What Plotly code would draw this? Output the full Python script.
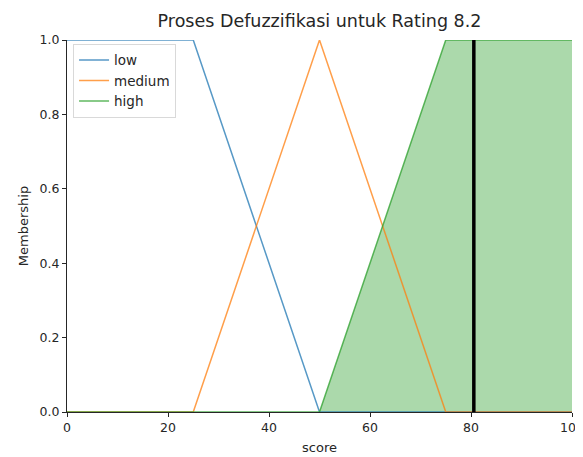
import plotly.graph_objects as go

# Data
score = [0, 25, 50, 75, 100]
low = [1, 1, 0, 0, 0]
medium = [0, 0, 1, 0, 0]
high = [0, 0, 0, 1, 1]
centroid = 80.56
title_text = "Proses Defuzzifikasi untuk Rating 8.2"

font = "DejaVu Sans"
W, H = 583, 449  # page body has 8px margin in the viewer
fig = go.Figure()

fig.add_trace(go.Scatter(x=score, y=high, mode="lines", fill="tozeroy",
                         fillcolor="rgba(44,160,44,0.4)", line=dict(width=0),
                         showlegend=False, hoverinfo="skip"))
fig.add_trace(go.Scatter(x=score, y=low, mode="lines", name="low",
                         line=dict(color="#1f77b4", width=1.5), opacity=0.75, cliponaxis=False))
fig.add_trace(go.Scatter(x=score, y=medium, mode="lines", name="medium",
                         line=dict(color="#ff7f0e", width=1.5), opacity=0.75, cliponaxis=False))
fig.add_trace(go.Scatter(x=score, y=high, mode="lines", name="high",
                         line=dict(color="#2ca02c", width=1.5), opacity=0.75, cliponaxis=False))
fig.add_vline(x=centroid, line=dict(color="black", width=3.5))

fig.update_layout(
    width=W, height=H,
    margin=dict(l=59, r=19, t=32, b=45),
    paper_bgcolor="white", plot_bgcolor="white",
    font=dict(family=font, size=12, color="#262626"),
    title=dict(text=title_text, x=0.5, xref="paper", xanchor="center",
               y=1 - 13 / H, yref="container", yanchor="middle",
               font=dict(size=17.5, color="#262626")),
    legend=dict(x=0.012, y=0.99, xanchor="left", yanchor="top",
                bordercolor="#d9d9d9", borderwidth=1, bgcolor="rgba(255,255,255,0.8)",
                font=dict(size=13.5), itemwidth=30, tracegroupgap=3),
    xaxis=dict(range=[0, 100], tickvals=[0, 20, 40, 60, 80, 100], showgrid=False,
               zeroline=False, showline=True, linecolor="#262626", linewidth=1,
               ticks="outside", ticklen=4, tickcolor="#262626", automargin=False,
               ticklabeloverflow="allow", tickfont=dict(size=12.5),
               title=dict(text="score", standoff=8, font=dict(size=13))),
    yaxis=dict(range=[0, 1], tickvals=[0, 0.2, 0.4, 0.6, 0.8, 1.0], tickformat=".1f",
               showgrid=False, zeroline=False, showline=True, linecolor="#262626",
               linewidth=1, ticks="outside", ticklen=4, tickcolor="#262626",
               automargin=False, ticklabeloverflow="allow", tickfont=dict(size=12.5),
               title=dict(text="Membership", standoff=8, font=dict(size=13))),
)

fig.write_html("out.html")
